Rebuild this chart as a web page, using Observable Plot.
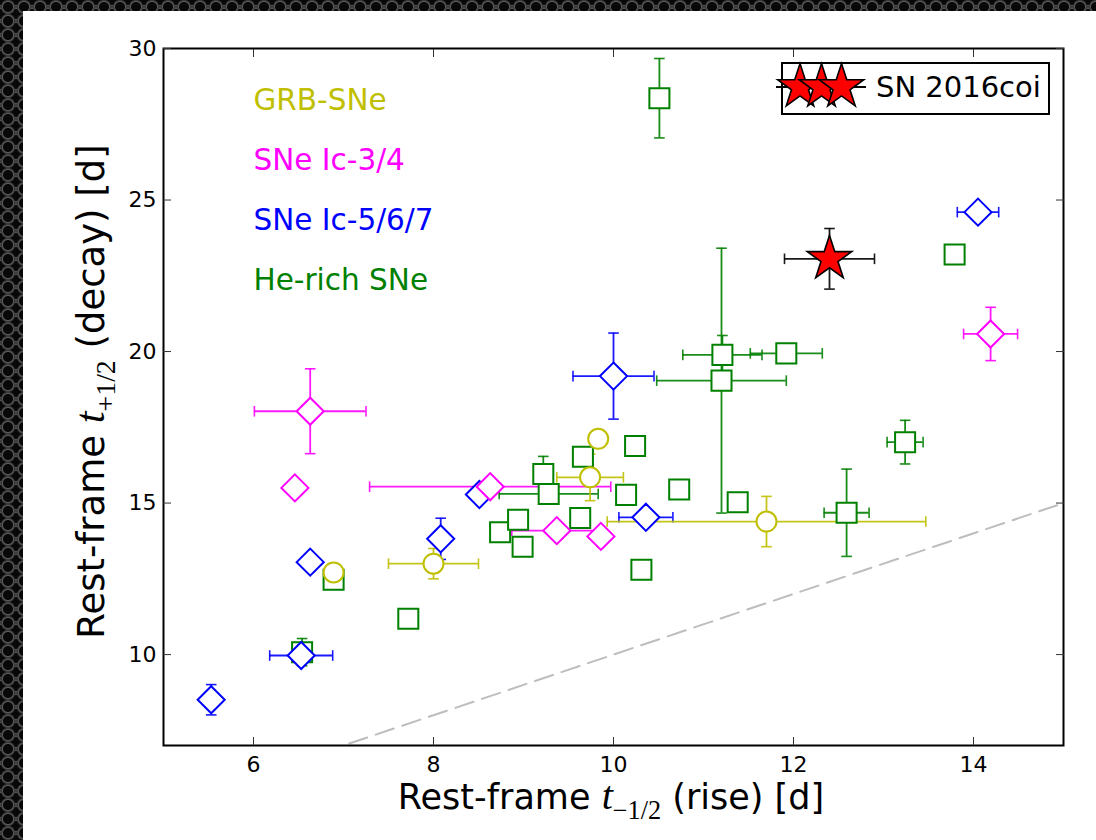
<!DOCTYPE html>
<html>
<head>
<meta charset="utf-8">
<script src="https://cdn.jsdelivr.net/npm/d3@7"></script>
<script src="https://cdn.jsdelivr.net/npm/@observablehq/plot@0.6"></script>
<style>
  html, body { margin: 0; padding: 0; }
  body {
    width: 1096px; height: 840px; overflow: hidden; position: relative;
    background-color: #3b3b3b;
    background-image:
      radial-gradient(circle, #080808 0 4.5px, #5a5a5a 5.5px, #2c2c2c 7px, transparent 7.5px),
      radial-gradient(circle, #080808 0 4.5px, #5a5a5a 5.5px, #2c2c2c 7px, transparent 7.5px);
    background-size: 16px 14px;
    background-position: 0 0, 8px 7px;
  }
  #panel { position: absolute; left: 23px; top: 11px; width: 1073px; height: 829px; background: #fff; }
</style>
</head>
<body>
<div id="panel"></div>
<script>
// Axis extents and tick positions
const xDomain = [5, 15];
const yDomain = [7, 30];
const xTicks = [6, 8, 10, 12, 14];
const yTicks = [10, 15, 20, 25, 30];
// one-to-one reference line (rise = decay)
const oneToOne = [5, 15];

// Each row: [rise t-1/2, decay t+1/2, rise error, decay error] in rest-frame days
const grbSNe = [
  [6.89, 12.71, 0, 0],
  [8.00, 13.00, 0.50, 0.50],
  [9.74, 15.85, 0.37, 0.77],
  [9.83, 17.12, 0, 0],
  [11.70, 14.39, 1.77, 0.83]
];
const sneIc34 = [
  [6.63, 18.03, 0.62, 1.40],
  [6.46, 15.50, 0, 0],
  [8.63, 15.54, 1.34, 0],
  [9.37, 14.09, 0.50, 0],
  [9.86, 13.90, 0, 0],
  [14.19, 20.58, 0.30, 0.88]
];
const sneIc567 = [
  [5.53, 8.51, 0, 0.50],
  [6.53, 9.97, 0.35, 0],
  [6.63, 13.05, 0, 0],
  [8.08, 13.82, 0, 0.68],
  [8.51, 15.28, 0, 0],
  [10.36, 14.53, 0.30, 0],
  [10.00, 19.19, 0.45, 1.42],
  [14.05, 24.60, 0.23, 0]
];
const heRichSNe = [
  [6.54, 10.08, 0, 0.45],
  [6.89, 12.47, 0, 0],
  [7.72, 11.18, 0, 0],
  [8.74, 14.04, 0, 0],
  [8.94, 14.45, 0, 0],
  [8.99, 13.56, 0, 0],
  [9.22, 15.96, 0, 0.58],
  [9.28, 15.30, 0.55, 0],
  [9.63, 14.51, 0, 0],
  [9.66, 16.53, 0, 0],
  [10.14, 15.27, 0, 0],
  [10.24, 16.88, 0, 0],
  [10.31, 12.80, 0, 0],
  [10.73, 15.45, 0, 0],
  [11.38, 15.03, 0, 0],
  [11.21, 19.89, 0.44, 0.64],
  [11.92, 19.94, 0.40, 0],
  [11.20, 19.04, 0.72, 4.37],
  [10.51, 28.36, 0.10, 1.31],
  [13.79, 23.20, 0, 0],
  [13.24, 17.01, 0.20, 0.72],
  [12.59, 14.68, 0.25, 1.44]
];
const sn2016coi = [
  [12.40, 23.06, 0.50, 1.00]
];

// Styling per sample (draw order: first to last)
const samples = [
  {name: "He-rich SNe", rows: heRichSNe, color: "#008000", symbol: "square", r: 11.3},
  {name: "SNe Ic-5/6/7", rows: sneIc567, color: "#0000ff", symbol: "diamond2", r: 12.2},
  {name: "SNe Ic-3/4", rows: sneIc34, color: "#ff00ff", symbol: "diamond2", r: 12.2},
  {name: "GRB-SNe", rows: grbSNe, color: "#bfbf00", symbol: "circle", r: 10}
];
const labelOrder = ["GRB-SNe", "SNe Ic-3/4", "SNe Ic-5/6/7", "He-rich SNe"];
const starName = "SN 2016coi";

const W = 1073, H = 829;
const M = {left: 140, right: 33, top: 37, bottom: 95};

const asPoints = rows => rows.map(([x, y, xe, ye]) => ({x, y, xe, ye}));

// Error-bar caps: short line segments whose half-length is the dot radius
const capVertical = {draw(ctx, size) { const h = Math.sqrt(size / Math.PI); ctx.moveTo(0, -h); ctx.lineTo(0, h); }};
const capHorizontal = {draw(ctx, size) { const h = Math.sqrt(size / Math.PI); ctx.moveTo(-h, 0); ctx.lineTo(h, 0); }};

function errorBars(rows, color) {
  const pts = asPoints(rows);
  const hx = pts.filter(d => d.xe > 0);
  const vy = pts.filter(d => d.ye > 0);
  const bar = {stroke: color, strokeWidth: 1.8, strokeOpacity: 0.9};
  const cap = {stroke: color, strokeWidth: 1.6, strokeOpacity: 0.9, fill: "none", r: 5.3};
  return [
    Plot.ruleY(hx, {y: "y", x1: d => d.x - d.xe, x2: d => d.x + d.xe, ...bar}),
    Plot.ruleX(vy, {x: "x", y1: d => d.y - d.ye, y2: d => d.y + d.ye, ...bar}),
    Plot.dot(hx, {x: d => d.x - d.xe, y: "y", symbol: capVertical, ...cap}),
    Plot.dot(hx, {x: d => d.x + d.xe, y: "y", symbol: capVertical, ...cap}),
    Plot.dot(vy, {x: "x", y: d => d.y - d.ye, symbol: capHorizontal, ...cap}),
    Plot.dot(vy, {x: "x", y: d => d.y + d.ye, symbol: capHorizontal, ...cap})
  ];
}

const marks = [
  Plot.line(oneToOne.map(v => ({x: v, y: v})), {
    x: "x", y: "y", stroke: "#bdbdbd", strokeWidth: 2, strokeDasharray: "19,9", clip: true
  }),
  ...samples.flatMap(s => errorBars(s.rows, s.color)),
  ...errorBars(sn2016coi, "#000"),
  ...samples.map(s => Plot.dot(asPoints(s.rows), {
    x: "x", y: "y", symbol: s.symbol, r: s.r, stroke: s.color, fill: "white", strokeWidth: 2
  })),
  Plot.dot(asPoints(sn2016coi), {
    x: "x", y: "y", symbol: "star", r: 14, fill: "#ff0000", stroke: "#000", strokeWidth: 1.6
  }),
  ...labelOrder.map((name, i) => {
    const s = samples.find(t => t.name === name);
    return Plot.text([name], {
      text: d => d, frameAnchor: "top-left", textAnchor: "start", lineAnchor: "middle",
      dx: 90, dy: 52 + i * 60, fill: s.color, fontSize: 29.5
    });
  }),
  Plot.frame({stroke: "#000", strokeWidth: 2}),
  Plot.axisX({ticks: xTicks, anchor: "bottom", tickSize: -8, tickPadding: 19, label: null, fontSize: 22, stroke: "#333", fill: "#000"}),
  Plot.axisX({ticks: xTicks, anchor: "top", tickSize: -8, tickFormat: () => "", label: null, stroke: "#333"}),
  Plot.axisY({ticks: yTicks, anchor: "left", tickSize: -8, tickPadding: 15, label: null, fontSize: 22, stroke: "#333", fill: "#000"}),
  Plot.axisY({ticks: yTicks, anchor: "right", tickSize: -8, tickFormat: () => "", label: null, stroke: "#333"})
];

const chart = Plot.plot({
  width: W, height: H,
  marginLeft: M.left, marginRight: M.right, marginTop: M.top, marginBottom: M.bottom,
  x: {domain: xDomain},
  y: {domain: yDomain},
  style: {fontFamily: "DejaVu Sans", fontSize: "22px", color: "#000", background: "white", overflow: "visible"},
  marks
});

const svg = d3.select(chart);
const frameL = M.left, frameR = W - M.right, frameT = M.top, frameB = H - M.bottom;

// Axis titles with math-style subscripts
function axisTitle(g, size, sub, rest) {
  g.attr("text-anchor", "middle").attr("font-family", "DejaVu Sans").attr("font-size", size).attr("fill", "#000");
  g.append("tspan").text("Rest-frame ");
  g.append("tspan").attr("font-family", "Liberation Serif").attr("font-style", "italic").attr("font-size", size * 1.15).text("t");
  g.append("tspan").attr("font-family", "Liberation Serif").attr("font-size", size * 0.75).attr("dy", size * 0.29).text(sub);
  g.append("tspan").attr("dy", -size * 0.29).text(rest);
}
axisTitle(svg.append("text").attr("x", (frameL + frameR) / 2 - 2).attr("y", frameB + 64),
  35, "\u22121/2", " (rise) [d]");
axisTitle(svg.append("text").attr("transform", `translate(${frameL - 59},${(frameT + frameB) / 2 - 5}) rotate(-90)`),
  37, "+1/2", " (decay) [d]");

// Legend for SN 2016coi in the upper-right corner
const lg = svg.append("g").attr("transform", `translate(${frameR - 281},${frameT + 15})`);
lg.append("rect").attr("width", 267).attr("height", 51).attr("fill", "white").attr("stroke", "#000").attr("stroke-width", 2);
lg.append("line").attr("x1", -6).attr("x2", 84).attr("y1", 24).attr("y2", 24).attr("stroke", "#000").attr("stroke-width", 2);
const starPath = d3.symbol(d3.symbolStar, Math.PI * 14 * 14)();
[18, 39.5, 59.5].forEach(cx => {
  lg.append("path").attr("d", starPath).attr("transform", `translate(${cx},24)`)
    .attr("fill", "#ff0000").attr("stroke", "#000").attr("stroke-width", 1.6);
});
lg.append("text").attr("x", 94).attr("y", 34).attr("text-anchor", "start")
  .attr("font-family", "DejaVu Sans").attr("font-size", 29).attr("fill", "#000").text(starName);

document.getElementById("panel").appendChild(chart);
</script>
</body>
</html>
